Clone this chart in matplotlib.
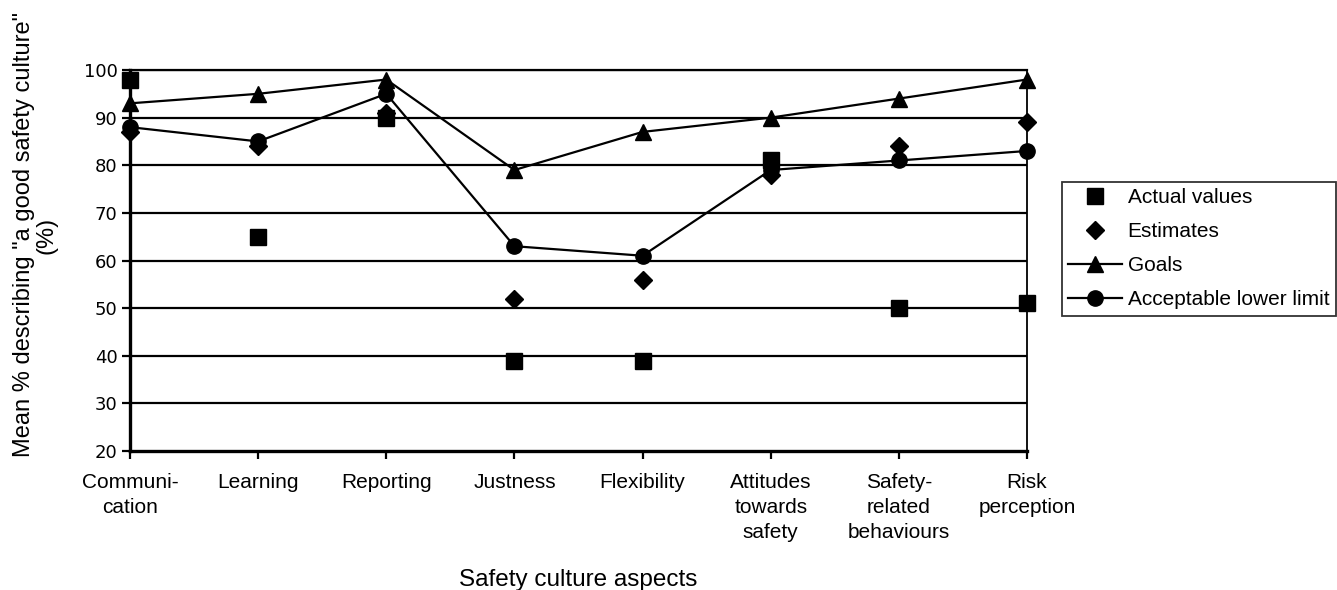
import numpy as np
import matplotlib
matplotlib.use('Agg')
from matplotlib import pyplot as plt

categories = ['Communi-\ncation', 'Learning', 'Reporting', 'Justness', 'Flexibility',
              'Attitudes\ntowards\nsafety', 'Safety-\nrelated\nbehaviours', 'Risk\nperception']
actual = [98, 65, 90, 39, 39, 81, 50, 51]
estimates = [87, 84, 91, 52, 56, 78, 84, 89]
goals = [93, 95, 98, 79, 87, 90, 94, 98]
lower_limit = [88, 85, 95, 63, 61, 79, 81, 83]
yticks = [20, 30, 40, 50, 60, 70, 80, 90, 100]

fig = plt.figure(figsize=(13.37, 5.9), dpi=100)
ax = fig.add_axes([130 / 1337, 1 - 451 / 590, (1027 - 130) / 1337, (451 - 70) / 590])

x = np.arange(len(categories))

for y in yticks[1:]:
    ax.axhline(y, color='black', lw=1.6, zorder=1)

ax.plot(x, actual, ls='none', marker='s', ms=11, color='black', clip_on=False,
        zorder=4, label='Actual values')
ax.plot(x, estimates, ls='none', marker='D', ms=9, color='black', clip_on=False,
        zorder=3, label='Estimates')
ax.plot(x, goals, ls='-', lw=1.6, marker='^', ms=11, color='black', clip_on=False,
        zorder=5, label='Goals')
ax.plot(x, lower_limit, ls='-', lw=1.6, marker='o', ms=11, color='black', clip_on=False,
        zorder=5, label='Acceptable lower limit')

ax.set_xlim(0, len(categories) - 1)
ax.set_ylim(20, 100)
ax.set_yticks(yticks)
ax.set_xticks(x)
ax.set_xticklabels(categories, family='Liberation Sans', fontsize=15, linespacing=1.38)
for lbl in ax.get_yticklabels():
    lbl.set_family('DejaVu Sans')
    lbl.set_fontsize(13)

ax.spines['left'].set_linewidth(2.4)
ax.spines['bottom'].set_linewidth(2.4)
ax.spines['right'].set_linewidth(1.3)
ax.spines['top'].set_linewidth(1.6)
ax.tick_params(axis='y', direction='out', length=6, width=1.6, pad=3)
ax.tick_params(axis='x', direction='out', length=6, width=1.6, pad=10)

ax.set_xlabel('Safety culture aspects', family='Liberation Sans', fontsize=17.5)
ax.xaxis.set_label_coords(0.5, -0.31)
ax.set_ylabel('Mean % describing "a good safety culture"\n(%)', family='Liberation Sans',
              fontsize=17, linespacing=1.0)
ax.yaxis.set_label_coords(-0.081, 0.567)

leg = fig.legend(loc='upper left', bbox_to_anchor=(1062 / 1337, 1 - 182 / 590),
                 prop={'family': 'Liberation Sans', 'size': 15}, frameon=True,
                 fancybox=False, edgecolor='black', handlelength=2.6, handletextpad=0.25,
                 labelspacing=0.72, borderpad=0.3, borderaxespad=0)
leg.get_frame().set_linewidth(1.3)

fig.savefig('out.png', dpi=100)
